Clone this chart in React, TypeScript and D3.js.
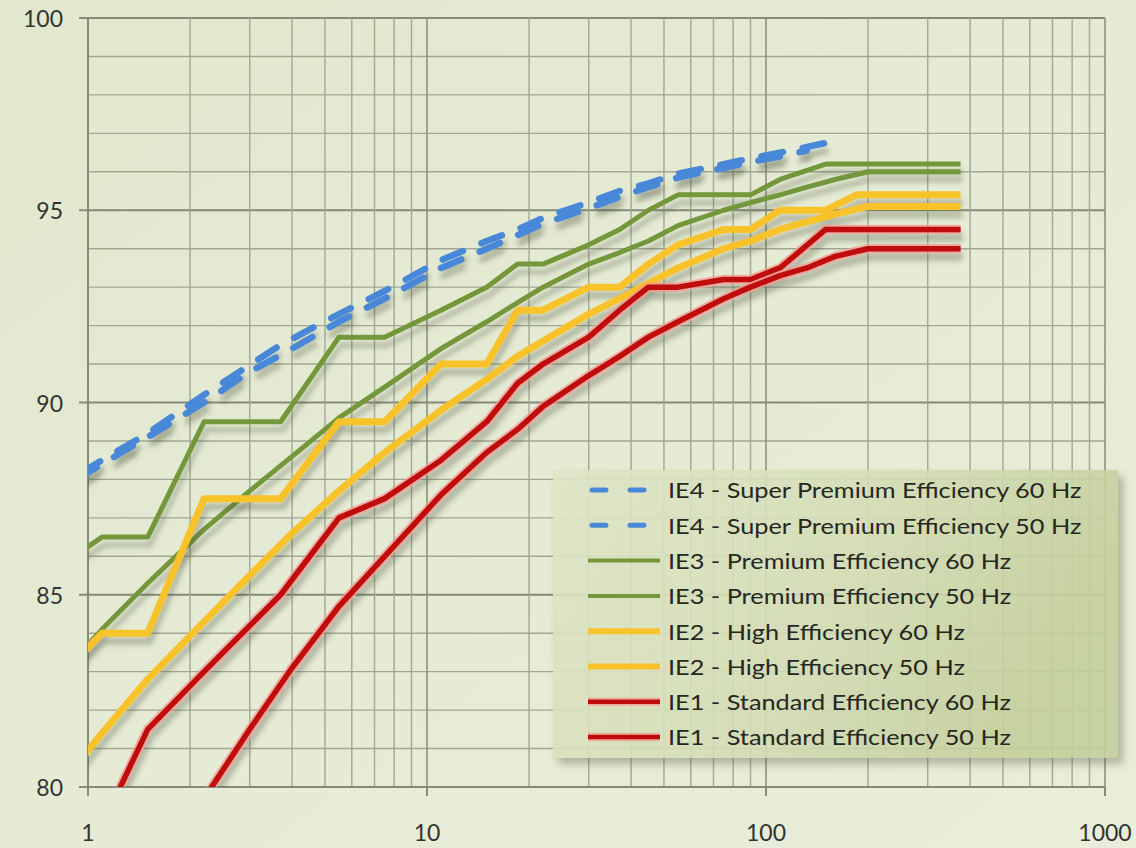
import React from "react";
import * as d3 from "d3";

// Rated output (kW) steps for the 50 Hz and 60 Hz efficiency tables
const kw50 = [0.75, 1.1, 1.5, 2.2, 3, 4, 5.5, 7.5, 11, 15, 18.5, 22, 30, 37, 45, 55, 75, 90, 110, 132, 160, 200, 375];
const kw60 = [0.75, 1.1, 1.5, 2.2, 3.7, 5.5, 7.5, 11, 15, 18.5, 22, 30, 37, 45, 55, 75, 90, 110, 150, 185, 375];
const kwIE4_60 = [0.75, 1.1, 1.5, 2.2, 3.7, 5.5, 7.5, 11, 15, 18.5, 22, 30, 37, 45, 55, 75, 90, 110, 150];
const kwIE4_50 = [0.75, 1.1, 1.5, 2.2, 3, 4, 5.5, 7.5, 11, 15, 18.5, 22, 30, 37, 45, 55, 75, 90, 110, 132];

// Nominal efficiency (%) per class
const ie4_60 = [87.6, 88.5, 89.2, 90.2, 91.5, 92.3, 92.9, 93.7, 94.2, 94.5, 94.8, 95.2, 95.5, 95.7, 95.95, 96.2, 96.35, 96.5, 96.75];
const ie4_50 = [87.5, 88.4, 89.1, 90.0, 90.8, 91.4, 92.1, 92.7, 93.5, 94.0, 94.35, 94.65, 95.05, 95.35, 95.6, 95.85, 96.1, 96.25, 96.4, 96.55];
const ie3_60 = [85.5, 86.5, 86.5, 89.5, 89.5, 91.7, 91.7, 92.4, 93.0, 93.6, 93.6, 94.1, 94.5, 95.0, 95.4, 95.4, 95.4, 95.8, 96.2, 96.2, 96.2];
const ie3_50 = [82.5, 84.1, 85.3, 86.7, 87.7, 88.6, 89.6, 90.4, 91.4, 92.1, 92.6, 93.0, 93.6, 93.9, 94.2, 94.6, 95.0, 95.2, 95.4, 95.6, 95.8, 96.0, 96.0];
const ie2_60 = [82.5, 84.0, 84.0, 87.5, 87.5, 89.5, 89.5, 91.0, 91.0, 92.4, 92.4, 93.0, 93.0, 93.6, 94.1, 94.5, 94.5, 95.0, 95.0, 95.4, 95.4];
const ie2_50 = [79.6, 81.4, 82.8, 84.3, 85.5, 86.6, 87.7, 88.7, 89.8, 90.6, 91.2, 91.6, 92.3, 92.7, 93.1, 93.5, 94.0, 94.2, 94.5, 94.7, 94.9, 95.1, 95.1];
const ie1_60 = [78.0, 79.0, 81.5, 83.0, 85.0, 87.0, 87.5, 88.5, 89.5, 90.5, 91.0, 91.7, 92.4, 93.0, 93.0, 93.2, 93.2, 93.5, 94.5, 94.5, 94.5];
const ie1_50 = [72.1, 75.0, 77.2, 79.7, 81.5, 83.1, 84.7, 86.0, 87.6, 88.7, 89.3, 89.9, 90.7, 91.2, 91.7, 92.1, 92.7, 93.0, 93.3, 93.5, 93.8, 94.0, 94.0];

const seriesNames = [
  "IE4 - Super Premium Efficiency 60 Hz",
  "IE4 - Super Premium Efficiency 50 Hz",
  "IE3 - Premium Efficiency 60 Hz",
  "IE3 - Premium Efficiency 50 Hz",
  "IE2 - High Efficiency 60 Hz",
  "IE2 - High Efficiency 50 Hz",
  "IE1 - Standard Efficiency 60 Hz",
  "IE1 - Standard Efficiency 50 Hz",
];

const xTicks = [1, 10, 100, 1000];
const yTicks = [80, 85, 90, 95, 100];

type Style = { color: string; width: number; dash?: string; glow?: string; offset?: number };

const styles: Style[] = [
  { color: "#4a88d8", width: 6.5, dash: "22 20", offset: 0 },
  { color: "#4a88d8", width: 6.5, dash: "22 20", offset: 4 },
  { color: "#74973a", width: 5 },
  { color: "#74973a", width: 5 },
  { color: "#f8c22c", width: 7 },
  { color: "#f8c22c", width: 7 },
  { color: "#bf0a0a", width: 5.5, glow: "#f29a92" },
  { color: "#bf0a0a", width: 5.5, glow: "#f29a92" },
];

const seriesData: [number[], number[]][] = [
  [kwIE4_60, ie4_60],
  [kwIE4_50, ie4_50],
  [kw60, ie3_60],
  [kw50, ie3_50],
  [kw60, ie2_60],
  [kw50, ie2_50],
  [kw60, ie1_60],
  [kw50, ie1_50],
];

export default function App() {
  const W = 1136;
  const H = 848;
  const left = 88, right = 1105, top = 18, bottom = 787;

  const x = d3.scaleLog().domain([1, 1000]).range([left, right]);
  const y = d3.scaleLinear().domain([80, 100]).range([bottom, top]);

  const line = d3
    .line<[number, number]>()
    .x((d) => x(d[0]))
    .y((d) => y(d[1]));

  const vGrid: number[] = [];
  for (let e = 0; e < 3; e++) {
    for (let m = 1; m < 10; m++) vGrid.push(m * Math.pow(10, e));
  }
  vGrid.push(1000);
  const hGrid = d3.range(80, 101, 1);

  const font = "Lato, 'Open Sans', sans-serif";

  const legX = 553, legY = 470, legW = 565, legH = 288;
  const rowY0 = 490, rowStep = 35.3;

  return (
    <svg
      width={W}
      height={H}
      viewBox={`0 0 ${W} ${H}`}
      style={{ position: "absolute", left: 0, top: 0, display: "block" }}
    >
      <defs>
        <linearGradient id="bg" x1="0" y1="0" x2="1" y2="1">
          <stop offset="0" stopColor="#e1e8cd" />
          <stop offset="1" stopColor="#e9eedb" />
        </linearGradient>
        <linearGradient id="legBg" x1="0" y1="0" x2="1" y2="0.3">
          <stop offset="0" stopColor="#dfe6c8" />
          <stop offset="0.6" stopColor="#d3dcb4" />
          <stop offset="1" stopColor="#c4cf9c" />
        </linearGradient>
        <clipPath id="plotClip">
          <rect x={left} y={top - 10} width={right - left} height={bottom - top + 10} />
        </clipPath>
        <filter id="lineShadow" x="-10%" y="-10%" width="120%" height="130%">
          <feDropShadow dx="2" dy="8" stdDeviation="2.5" floodColor="#4d5240" floodOpacity="0.33" />
        </filter>
        <filter id="legShadow" x="-10%" y="-10%" width="120%" height="130%">
          <feDropShadow dx="5" dy="6" stdDeviation="4" floodColor="#5a5f4a" floodOpacity="0.45" />
        </filter>
      </defs>

      <rect x={0} y={0} width={W} height={H} fill="url(#bg)" />

      {/* grid */}
      <g>
        {hGrid.map((v) => (
          <line
            key={"h" + v}
            x1={left}
            x2={right}
            y1={y(v)}
            y2={y(v)}
            stroke={v % 5 === 0 ? "#858a78" : "#a2a793"}
            strokeWidth={v % 5 === 0 ? 2 : 1.4}
          />
        ))}
        {vGrid.map((v) => (
          <line
            key={"v" + v}
            x1={x(v)}
            x2={x(v)}
            y1={top}
            y2={bottom}
            stroke={xTicks.includes(v) ? "#8d9280" : "#a2a793"}
            strokeWidth={xTicks.includes(v) ? 1.6 : 1.4}
          />
        ))}
      </g>

      {/* axes */}
      <g stroke="#868b79" strokeWidth={2}>
        <line x1={left} x2={left} y1={top} y2={bottom} />
        <line x1={left} x2={right} y1={bottom} y2={bottom} />
        {yTicks.map((t) => (
          <line key={"yt" + t} x1={left - 9} x2={left} y1={y(t)} y2={y(t)} />
        ))}
        {xTicks.map((t) => (
          <line key={"xt" + t} x1={x(t)} x2={x(t)} y1={bottom} y2={bottom + 9} />
        ))}
      </g>
      <g fontFamily={font} fontSize={23} fill="#333">
        {yTicks.map((t) => (
          <text key={"yl" + t} x={63} y={y(t)} textAnchor="end" dominantBaseline="central">
            {t}
          </text>
        ))}
        {xTicks.map((t) => (
          <text key={"xl" + t} x={x(t)} y={832} textAnchor="middle" dominantBaseline="central">
            {t}
          </text>
        ))}
      </g>

      {/* series */}
      <g clipPath="url(#plotClip)">
        {seriesData.map(([xs, ys], i) => {
          const s = styles[i];
          const pts = xs.map((k, j) => [k, ys[j]] as [number, number]);
          const d = line(pts) || "";
          return (
            <g key={"s" + i} filter="url(#lineShadow)">
              {s.glow && (
                <path d={d} fill="none" stroke={s.glow} strokeWidth={s.width + 4} strokeLinejoin="round" opacity={0.75} />
              )}
              <path
                d={d}
                fill="none"
                stroke={s.color}
                strokeWidth={s.width}
                strokeDasharray={s.dash}
                strokeDashoffset={s.offset}
                strokeLinecap={s.dash ? "round" : "butt"}
                strokeLinejoin="round"
              />
            </g>
          );
        })}
      </g>

      {/* legend */}
      <g>
        <rect x={legX} y={legY} width={legW} height={legH} fill="url(#legBg)" opacity={0.9} filter="url(#legShadow)" />
        {seriesNames.map((name, i) => {
          const s = styles[i];
          const cy = rowY0 + i * rowStep;
          return (
            <g key={"lg" + i}>
              {s.glow && (
                <line x1={588} x2={660} y1={cy} y2={cy} stroke={s.glow} strokeWidth={s.width + 3} opacity={0.7} />
              )}
              <line
                x1={s.dash ? 592 : 588}
                x2={660}
                y1={cy}
                y2={cy}
                stroke={s.color}
                strokeWidth={s.dash ? 5 : s.width - 1}
                strokeDasharray={s.dash ? "14 24" : undefined}
                strokeLinecap={s.dash ? "round" : "butt"}
              />
              <text
                transform={`translate(668,${cy}) scale(1.15,1)`}
                dominantBaseline="central"
                fontFamily={font}
                fontSize={22}
                fill="#262720"
              >
                {name}
              </text>
            </g>
          );
        })}
      </g>
    </svg>
  );
}
